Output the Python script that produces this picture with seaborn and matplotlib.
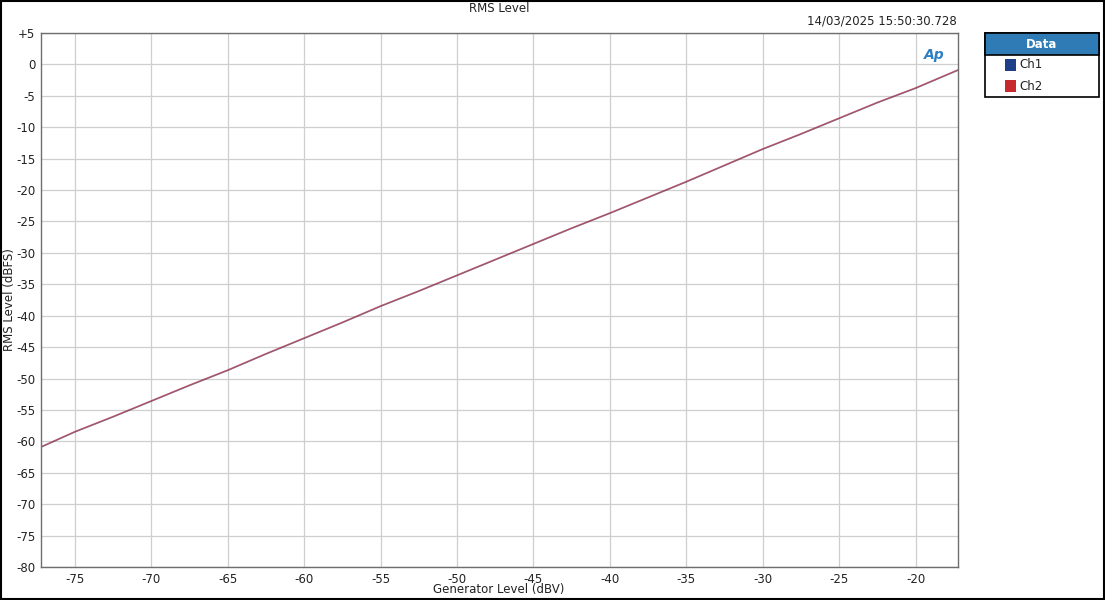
import matplotlib
matplotlib.use("Agg")
import matplotlib.pyplot as plt
from matplotlib.patches import Rectangle
from matplotlib.ticker import FuncFormatter
import seaborn as sns
import pandas as pd

# sweep (Ch1 and Ch2 overlap almost exactly)
gen_level = [-77.2, -75, -72.5, -70, -67.5, -65, -62.5, -60, -57.5, -55, -52.5, -50,
             -47.5, -45, -42.5, -40, -37.5, -35, -32.5, -30, -27.5, -25, -22.5, -20, -17.2]
ch1_rms = [-60.9, -58.5, -56.1, -53.6, -51.1, -48.7, -46.1, -43.6, -41.1, -38.5, -36.1, -33.6,
           -31.1, -28.6, -26.1, -23.7, -21.2, -18.7, -16.1, -13.5, -11.1, -8.6, -6.1, -3.8, -0.9]
ch2_rms = [-60.85, -58.45, -56.05, -53.55, -51.05, -48.65, -46.05, -43.55, -41.05, -38.45, -36.05, -33.55,
           -31.05, -28.55, -26.05, -23.65, -21.15, -18.65, -16.05, -13.45, -11.05, -8.55, -6.05, -3.75, -0.85]
channels = ["Ch1", "Ch2"]
ch_colors = {"Ch1": "#1c3f87", "Ch2": "#c62a2f"}

x_ticks = [-75, -70, -65, -60, -55, -50, -45, -40, -35, -30, -25, -20]
y_ticks = list(range(-80, 10, 5))

df = pd.DataFrame({
    "Generator Level (dBV)": gen_level * 2,
    "RMS Level (dBFS)": ch1_rms + ch2_rms,
    "Channel": ["Ch1"] * len(gen_level) + ["Ch2"] * len(gen_level),
})

sns.set_style("white")
plt.rcParams["font.family"] = ["DejaVu Sans"]
plt.rcParams["axes.unicode_minus"] = False

W, H = 1105, 600
fig = plt.figure(figsize=(W / 100, H / 100), dpi=100)
ax = fig.add_axes([41 / W, 1 - 567 / H, 917 / W, 534 / H])

sns.lineplot(data=df, x="Generator Level (dBV)", y="RMS Level (dBFS)", hue="Channel",
             palette=ch_colors, linewidth=1.1, alpha=0.6, legend=False, ax=ax)

ax.set_xlim(-77.22, -17.22)
ax.set_ylim(-80, 5)
ax.set_xticks(x_ticks)
ax.set_yticks(y_ticks)
ax.yaxis.set_major_formatter(FuncFormatter(lambda v, p: f"+{int(v)}" if v > 0 else f"{int(v)}"))
ax.tick_params(length=0, labelsize=8.5, colors="#222222", pad=4)
ax.grid(True, color="#cfcfcf", linewidth=0.9)
for s in ax.spines.values():
    s.set_color("#6e6e6e")
    s.set_linewidth(1.0)
ax.set_xlabel("")
ax.set_ylabel("")
fig.text(499 / W, 1 - 590 / H, "Generator Level (dBV)", ha="center", va="center",
         fontsize=8.5, color="#222222")
fig.text(10 / W, 1 - 300 / H, "RMS Level (dBFS)", ha="center", va="center", rotation=90,
         fontsize=8.5, color="#222222")

fig.text(499 / W, 1 - 8 / H, "RMS Level", ha="center", va="center", fontsize=8.5, color="#222222")
fig.text(957 / W, 1 - 21 / H, "14/03/2025 15:50:30.728", ha="right", va="center",
         fontsize=8.5, color="#222222")
ax.text(0.974, 0.958, "Ap", transform=ax.transAxes, ha="center", va="center", fontsize=10,
        fontweight="bold", style="italic", color="#2d7fc1")

# legend panel
lx, ly, lw, lh = 985 / W, 1 - 97 / H, 114 / W, 64 / H
fig.patches.append(Rectangle((lx, ly), lw, lh, transform=fig.transFigure, facecolor="white",
                             edgecolor="black", linewidth=1.2))
fig.patches.append(Rectangle((lx, 1 - 55 / H), lw, 22 / H, transform=fig.transFigure,
                             facecolor="#2f7bb6", edgecolor="black", linewidth=1.2))
fig.text(lx + lw / 2, 1 - 44 / H, "Data", ha="center", va="center", fontsize=8.5,
         fontweight="bold", color="white")
for i, ch in enumerate(channels):
    yy = 1 - (65 + 21 * i) / H
    fig.patches.append(Rectangle((1005 / W, yy - 6 / H), 11 / W, 12 / H, transform=fig.transFigure,
                                 facecolor=ch_colors[ch], edgecolor="none"))
    fig.text(1019 / W, yy, ch, ha="left", va="center", fontsize=8.5, color="#222222")

# outer frame
fig.patches.append(Rectangle((0.0009, 0.0017), 0.9982, 0.9966, transform=fig.transFigure,
                             facecolor="none", edgecolor="black", linewidth=1.5))

fig.savefig("out.png", dpi=100)
